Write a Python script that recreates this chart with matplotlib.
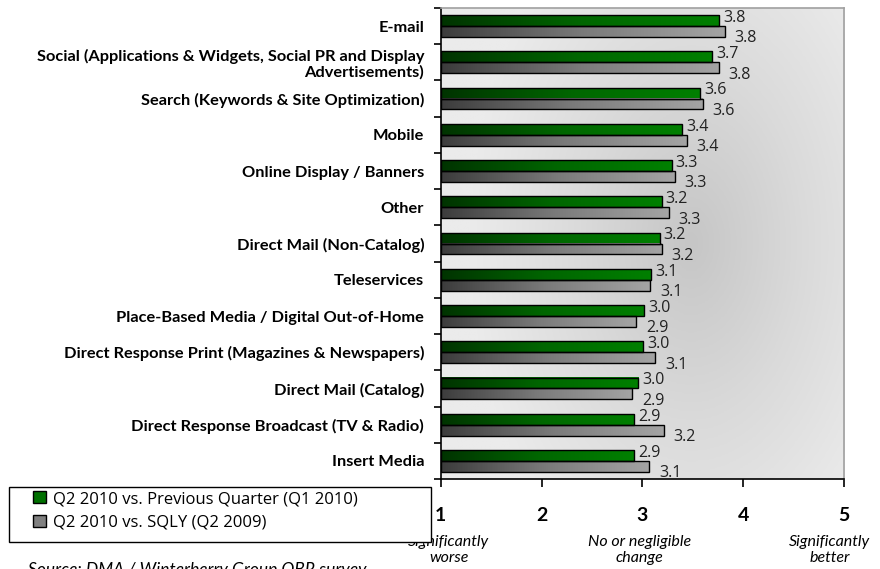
import numpy as np
import matplotlib.pyplot as plt
from matplotlib.colors import LinearSegmentedColormap
from matplotlib.patches import Patch, Rectangle

# data
categories = [
    "E-mail",
    "Social (Applications & Widgets, Social PR and Display\nAdvertisements)",
    "Search (Keywords & Site Optimization)",
    "Mobile",
    "Online Display / Banners",
    "Other",
    "Direct Mail (Non-Catalog)",
    "Teleservices",
    "Place-Based Media / Digital Out-of-Home",
    "Direct Response Print (Magazines & Newspapers)",
    "Direct Mail (Catalog)",
    "Direct Response Broadcast (TV & Radio)",
    "Insert Media",
]
prev_quarter = [3.76, 3.69, 3.57, 3.39, 3.29, 3.19, 3.17, 3.09, 3.02, 3.01, 2.96, 2.92, 2.92]
sqly = [3.82, 3.76, 3.60, 3.44, 3.32, 3.26, 3.19, 3.08, 2.94, 3.13, 2.90, 3.21, 3.07]
series_names = ["Q2 2010 vs. Previous Quarter (Q1 2010)", "Q2 2010 vs. SQLY (Q2 2009)"]
x_ticks = [1, 2, 3, 4, 5]
x_sublabels = {1: "Significantly\nworse", 3: "No or negligible\nchange", 5: "Significantly\nbetter"}
sublabel_shift = {1: 8, 3: -3, 5: -14}  # px, like the original layout

plt.rcParams['font.family'] = ['Lato', 'DejaVu Sans']

green_cmap = LinearSegmentedColormap.from_list("g", ["#003300", "#006600", "#008000"])
gray_cmap = LinearSegmentedColormap.from_list("k", ["#3c3c3c", "#7a7a7a", "#a4a4a4"])
bg_cmap = LinearSegmentedColormap.from_list("bg", ["#c6c6c6", "#dadada", "#ebebeb"])

fig = plt.figure(figsize=(8.8, 5.69), dpi=100)
ax = fig.add_axes([0.501, 0.158, 0.458, 0.828])

n = len(categories)
ypos = np.arange(n)[::-1]
h = 0.30

# background gradient, darker in the middle
gx, gy = np.meshgrid(np.linspace(0, 1, 300), np.linspace(0, 1, 300))
dist = np.sqrt(((gx - 0.62) / 0.55) ** 2 + ((gy - 0.5) / 0.75) ** 2)
ax.imshow(np.clip(dist, 0, 1), cmap=bg_cmap, extent=(1, 5, -0.5, n - 0.5),
          aspect='auto', origin='lower', zorder=0)

b1 = ax.barh(ypos + h / 2, np.array(prev_quarter) - 1, left=1, height=h,
             facecolor='none', edgecolor='black', linewidth=1.0, zorder=3)
b2 = ax.barh(ypos - h / 2, np.array(sqly) - 1, left=1, height=h,
             facecolor='none', edgecolor='black', linewidth=1.0, zorder=3)

grad = np.linspace(0, 1, 256).reshape(1, -1)
for bars, cmap in [(b1, green_cmap), (b2, gray_cmap)]:
    for p in bars:
        x0, y0 = p.get_x(), p.get_y()
        ax.imshow(grad, cmap=cmap, extent=(x0, x0 + p.get_width(), y0, y0 + p.get_height()),
                  aspect='auto', zorder=2)

for yy, v in zip(ypos, prev_quarter):
    ax.annotate(f"{v:.1f}", (v, yy + h / 2), xytext=(3, 2), textcoords='offset points',
                va='center', ha='left', fontsize=11.5, color='#222222', family='Open Sans')
for yy, v in zip(ypos, sqly):
    ax.annotate(f"{v:.1f}", (v, yy - h / 2), xytext=(7, -5), textcoords='offset points',
                va='center', ha='left', fontsize=11.5, color='#222222', family='Open Sans')

ax.set_xlim(1, 5)
ax.set_ylim(-0.5, n - 0.5)
ax.set_xticks(x_ticks)
ax.set_xticklabels([str(t) for t in x_ticks], fontsize=14, fontweight='bold')
ax.tick_params(axis='x', direction='out', length=6, width=1.2, pad=14)
ax.set_yticks(ypos)
ax.set_yticklabels(categories, fontsize=11.8, fontweight='bold', linespacing=1.1)
ax.tick_params(axis='y', length=0, pad=12)
ax.set_yticks(np.arange(n + 1) - 0.5, minor=True)
ax.tick_params(axis='y', which='minor', direction='out', length=5, width=1.2)

for t, s in x_sublabels.items():
    ax.annotate(s, (t, -0.5), xytext=(sublabel_shift[t] * 0.72, -40), textcoords='offset points',
                ha='center', va='top', fontsize=11.5, style='italic', linespacing=1.25,
                annotation_clip=False)

for side in ['top', 'right']:
    ax.spines[side].set_color('#a0a0a0')
    ax.spines[side].set_linewidth(1.2)
for side in ['left', 'bottom']:
    ax.spines[side].set_color('black')
    ax.spines[side].set_linewidth(1.2)

# legend box drawn separately so the entries can sit inset like the original
fig.patches.append(Rectangle((9 / 880, 27 / 569), 422 / 880, 55 / 569, transform=fig.transFigure,
                             facecolor='white', edgecolor='black', linewidth=1.0, zorder=1))
handles = [Patch(facecolor='#007000', edgecolor='black'),
           Patch(facecolor='#808080', edgecolor='black')]
leg = fig.legend(handles, series_names, loc='upper left',
                 bbox_to_anchor=(28 / 880, 1 - 486 / 569), borderaxespad=0,
                 frameon=False, handlelength=0.75, handleheight=0.75, handletextpad=0.45,
                 borderpad=0.3, labelspacing=0.45, prop={'family': 'Open Sans', 'size': 12})
leg.set_zorder(2)

fig.text(0.032, 0.012, "Source: DMA / Winterberry Group QBR survey", fontsize=12.5,
         style='italic', ha='left', va='top')

fig.savefig("out.png", dpi=100)
